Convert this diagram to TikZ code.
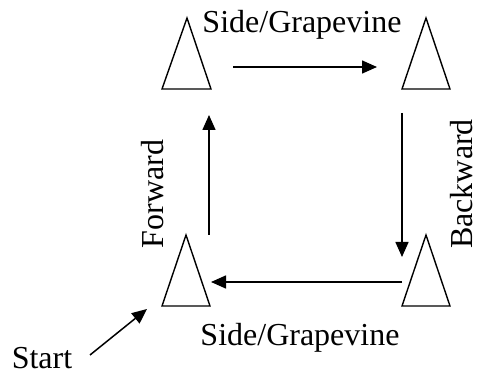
\documentclass[tikz,border=0pt]{standalone}
\usepackage{fontspec}
\setmainfont{Liberation Serif}
\usetikzlibrary{arrows.meta}
\begin{document}
\begin{tikzpicture}[x=1pt,y=-1pt,
  cone/.style={line width=1.4pt, line join=miter},
  move/.style={line width=1.5pt, -{Triangle[length=15pt,width=13pt]}},
  lbl/.style={inner sep=0pt, anchor=base, font=\fontsize{32}{38}\selectfont}]
  \useasboundingbox (0,0) rectangle (477,374);

  % cones at the four corners
  \draw[cone] (187,18) -- (211,89) -- (162,89) -- cycle;
  \draw[cone] (426,18) -- (450,89) -- (402,89) -- cycle;
  \draw[cone] (186,235) -- (210,306) -- (162,306) -- cycle;
  \draw[cone] (426,235) -- (450,306) -- (402,306) -- cycle;

  % arrow end points
  \coordinate (tA) at (233,67);  \coordinate (tB) at (377,67);
  \coordinate (rA) at (402,113); \coordinate (rB) at (402,257);
  \coordinate (bA) at (402,282); \coordinate (bB) at (211,282);
  \coordinate (lA) at (209,235); \coordinate (lB) at (209,115);
  \coordinate (sA) at (90,355);  \coordinate (sB) at (147,309);

  \draw[move] (tA) -- (tB);
  \draw[move] (rA) -- (rB);
  \draw[move] (bA) -- (bB);
  \draw[move] (lA) -- (lB);
  \draw[move] (sA) -- (sB);

  % labels
  \node[lbl] (top) at (302,33) {Side/Grapevine};
  \node[lbl] (bot) at (300,345) {Side/Grapevine};
  \node[lbl] (start) at (42,368) {Start};
  \node[lbl, rotate=90] (fwd) at (163,194) {Forward};
  \node[lbl, rotate=90] (bwd) at (472,184) {Backward};
\end{tikzpicture}
\end{document}
